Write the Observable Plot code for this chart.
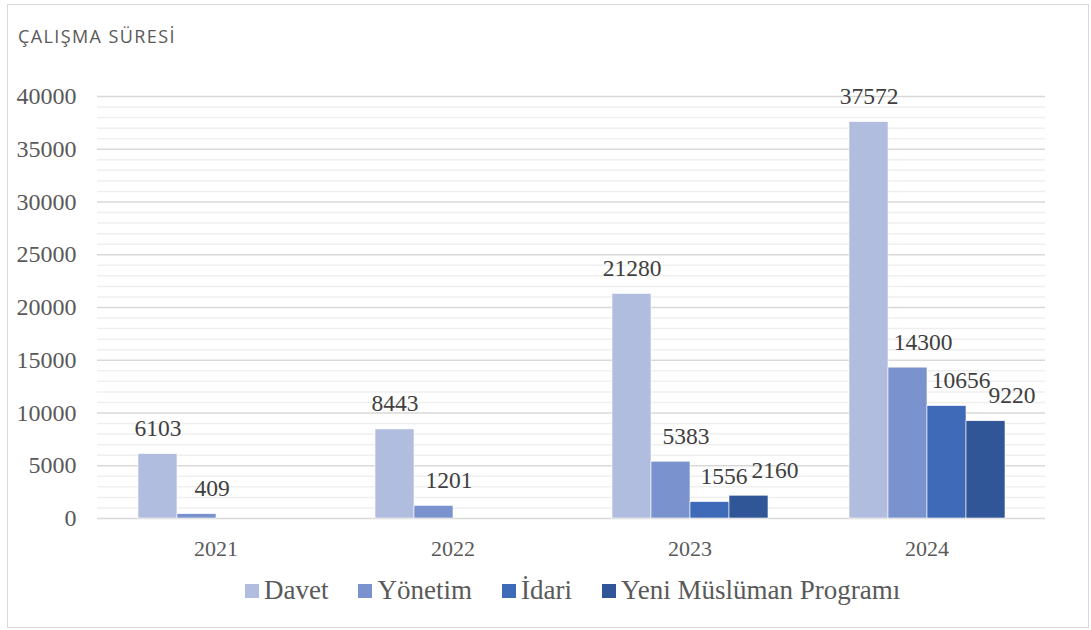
<!DOCTYPE html>
<html><head><meta charset="utf-8">
<script src="https://cdn.jsdelivr.net/npm/d3@7"></script>
<script src="https://cdn.jsdelivr.net/npm/@observablehq/plot@0.6"></script>
<style>
body{margin:0;background:#fff;}
#frame{position:absolute;left:7px;top:4px;width:1082px;height:624px;border:1px solid #d9d9d9;box-sizing:border-box;}
#title{position:absolute;left:18px;top:27px;line-height:18px;font-family:"Open Sans";font-size:18px;letter-spacing:1.4px;color:#595959;white-space:nowrap;}
#chart{position:absolute;left:0;top:60px;}
#legend{position:absolute;left:245px;top:575px;display:flex;align-items:center;font-family:"Liberation Serif";font-size:27px;color:#595959;white-space:nowrap;}
.item{display:flex;align-items:center;margin-right:30px;}
.sw{width:14px;height:14px;margin-right:5px;}
#chart svg text{font-family:"Liberation Serif", serif;}
</style></head>
<body>
<div id="frame"></div>
<div id="title">ÇALIŞMA SÜRESİ</div>
<div id="chart"></div>
<div id="legend"></div>
<script>
const years = ["2021", "2022", "2023", "2024"];
const series = ["Davet", "Yönetim", "İdari", "Yeni Müslüman Programı"];
const davet = [6103, 8443, 21280, 37572];
const yonetim = [409, 1201, 5383, 14300];
const idari = [null, null, 1556, 10656];
const yeniMuslumanProgrami = [null, null, 2160, 9220];
const yTicks = [0, 5000, 10000, 15000, 20000, 25000, 30000, 35000, 40000];
const colors = ["#b1bddf", "#7a92ce", "#3e6ab8", "#315698"];

const seriesValues = [davet, yonetim, idari, yeniMuslumanProgrami];
const rows = [];
series.forEach((s, si) => years.forEach((y, yi) => {
  const v = seriesValues[si][yi];
  if (v != null) rows.push({year: y, series: s, value: v});
}));
const minorTicks = d3.range(0, 40001, 1000).filter(v => v % 5000 !== 0);
const labelDx = {"Davet": 0, "Yönetim": 15, "İdari": 14, "Yeni Müslüman Programı": 26};
const serif = "Liberation Serif";

const chart = Plot.plot({
  width: 1091, height: 508,
  marginLeft: 96, marginRight: 46, marginTop: 36, marginBottom: 50,
  style: {fontFamily: serif, fontSize: "22px", color: "#595959", background: "transparent"},
  fx: {domain: years, padding: 0, label: null},
  x: {domain: series, paddingInner: 0, paddingOuter: 1, axis: null},
  y: {domain: [0, 40000], label: null},
  color: {domain: series, range: colors},
  marks: [
    Plot.ruleY(minorTicks, {stroke: "#efefef", strokeWidth: 1.5}),
    Plot.ruleY(yTicks, {stroke: "#d9d9d9", strokeWidth: 1.5}),
    Plot.axisY(yTicks, {tickSize: 0, tickPadding: 21, tickFormat: d => String(d), fontSize: 24, fontFamily: serif, label: null, fill: "#595959"}),
    Plot.axisFx({anchor: "bottom", tickSize: 0, tickPadding: 22, fontSize: 22, fontFamily: serif, label: null, fill: "#595959"}),
    Plot.barY(rows, {fx: "year", x: "series", y: "value", fill: "series", stroke: "white", strokeWidth: 0.6}),
    ...series.map(s => Plot.text(rows.filter(d => d.series === s), {
      fx: "year", x: "series", y: "value", text: d => String(d.value),
      dy: -18, dx: labelDx[s], lineAnchor: "bottom", fontSize: 23.5, fontFamily: serif, fill: "#404040"
    }))
  ]
});
document.getElementById("chart").appendChild(chart);

const legend = document.getElementById("legend");
series.forEach((s, i) => {
  const item = document.createElement("div");
  item.className = "item";
  const sw = document.createElement("div");
  sw.className = "sw"; sw.style.background = colors[i];
  const t = document.createElement("span"); t.textContent = s;
  item.appendChild(sw); item.appendChild(t);
  legend.appendChild(item);
});
</script>
</body></html>
